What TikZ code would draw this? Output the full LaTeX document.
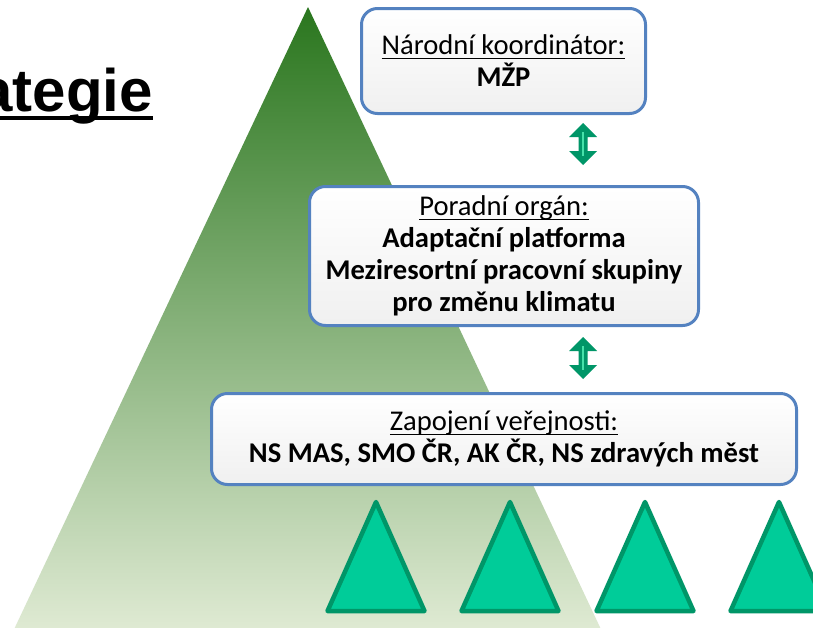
\documentclass[tikz,border=0pt]{standalone}
\usepackage{fontspec}
\setmainfont{Carlito}
\newfontfamily\titlefont{Liberation Sans}
\usetikzlibrary{calc}
\definecolor{boxblue}{RGB}{84,130,192}
\definecolor{trigreen}{RGB}{0,204,153}
\definecolor{triedge}{RGB}{0,150,104}
\definecolor{arrgreen}{RGB}{0,150,104}
\definecolor{arrlight}{RGB}{70,225,170}
\definecolor{bigtop}{RGB}{42,118,30}
\definecolor{bigmid}{RGB}{145,182,105}
\definecolor{bigbot}{RGB}{226,236,214}
\newsavebox\ulsave
\newcommand\ulbox[1]{\sbox\ulsave{#1}\rlap{\rule[-4.5pt]{\wd\ulsave}{1.4pt}}\usebox\ulsave}
\newcommand\vdarrow[2]{%
  \fill[arrgreen] let \p1=(#1), \p2=(#2) in
    (\x1,\y1) -- (\x1+14pt,\y1-14pt) -- (\x1+4.5pt,\y1-14pt) -- (\x1+4.5pt,\y2+14pt)
    -- (\x1+14pt,\y2+14pt) -- (\x1,\y2) -- (\x1-14pt,\y2+14pt) -- (\x1-4.5pt,\y2+14pt)
    -- (\x1-4.5pt,\y1-14pt) -- (\x1-14pt,\y1-14pt) -- cycle;
  \draw[arrlight, line width=2pt] let \p1=(#1), \p2=(#2) in (\x1,\y1-9pt) -- (\x1,\y2+9pt);
}
\begin{document}
\begin{tikzpicture}[x=1pt,y=-1pt,
  box/.style={draw=boxblue, line width=3pt, rounded corners=16pt, top color=white,
    bottom color=black!6, align=center, inner sep=0pt,
    font=\fontsize{28.6}{32}\selectfont},
  smalltri/.style={draw=triedge, fill=trigreen, line width=4.5pt, line join=round},
  titlestyle/.style={anchor=base east, inner sep=0pt,
    font=\titlefont\bfseries\fontsize{60}{60}\selectfont}
]
\useasboundingbox (0,0) rectangle (813,627);
\fill[white] (0,0) rectangle (813,627);

% big pyramid
\shade[top color=bigtop, middle color=bigmid, bottom color=bigbot]
  (308,7) -- (606,640) -- (9,640) -- cycle;

% title
\node[titlestyle] (title) at (153,111) {ategie};
\draw[line width=4pt] ($(title.base west)+(0,7)$) -- ($(title.base east)+(0,7)$);

% boxes
\node[box, minimum width=284, minimum height=105] (koord) at (503.5,61)
  {\ulbox{Národní koordinátor:}\\\textbf{MŽP}};
\node[box, minimum width=389, minimum height=139] (porad) at (504,256)
  {\ulbox{Poradní orgán:}\\\textbf{Adaptační platforma}\\\textbf{Meziresortní pracovní skupiny}\\\textbf{pro změnu klimatu}};
\node[box, minimum width=585, minimum height=91] (verej) at (504,439)
  {\ulbox{Zapojení veřejnosti:}\\\textbf{NS MAS, SMO ČR, AK ČR, NS zdravých měst}};

% double arrows
\coordinate (a1t) at (583,123);
\coordinate (a1b) at (583,165);
\coordinate (a2t) at (583,337);
\coordinate (a2b) at (583,379);
\vdarrow{a1t}{a1b}
\vdarrow{a2t}{a2b}

% small triangles
\draw[smalltri] (376,502) -- (424.5,611) -- (327.5,611) -- cycle;
\draw[smalltri] (510,502) -- (558.5,611) -- (461.5,611) -- cycle;
\draw[smalltri] (645,502) -- (693.5,611) -- (596.5,611) -- cycle;
\draw[smalltri] (779,502) -- (827.5,611) -- (730.5,611) -- cycle;
\end{tikzpicture}
\end{document}
